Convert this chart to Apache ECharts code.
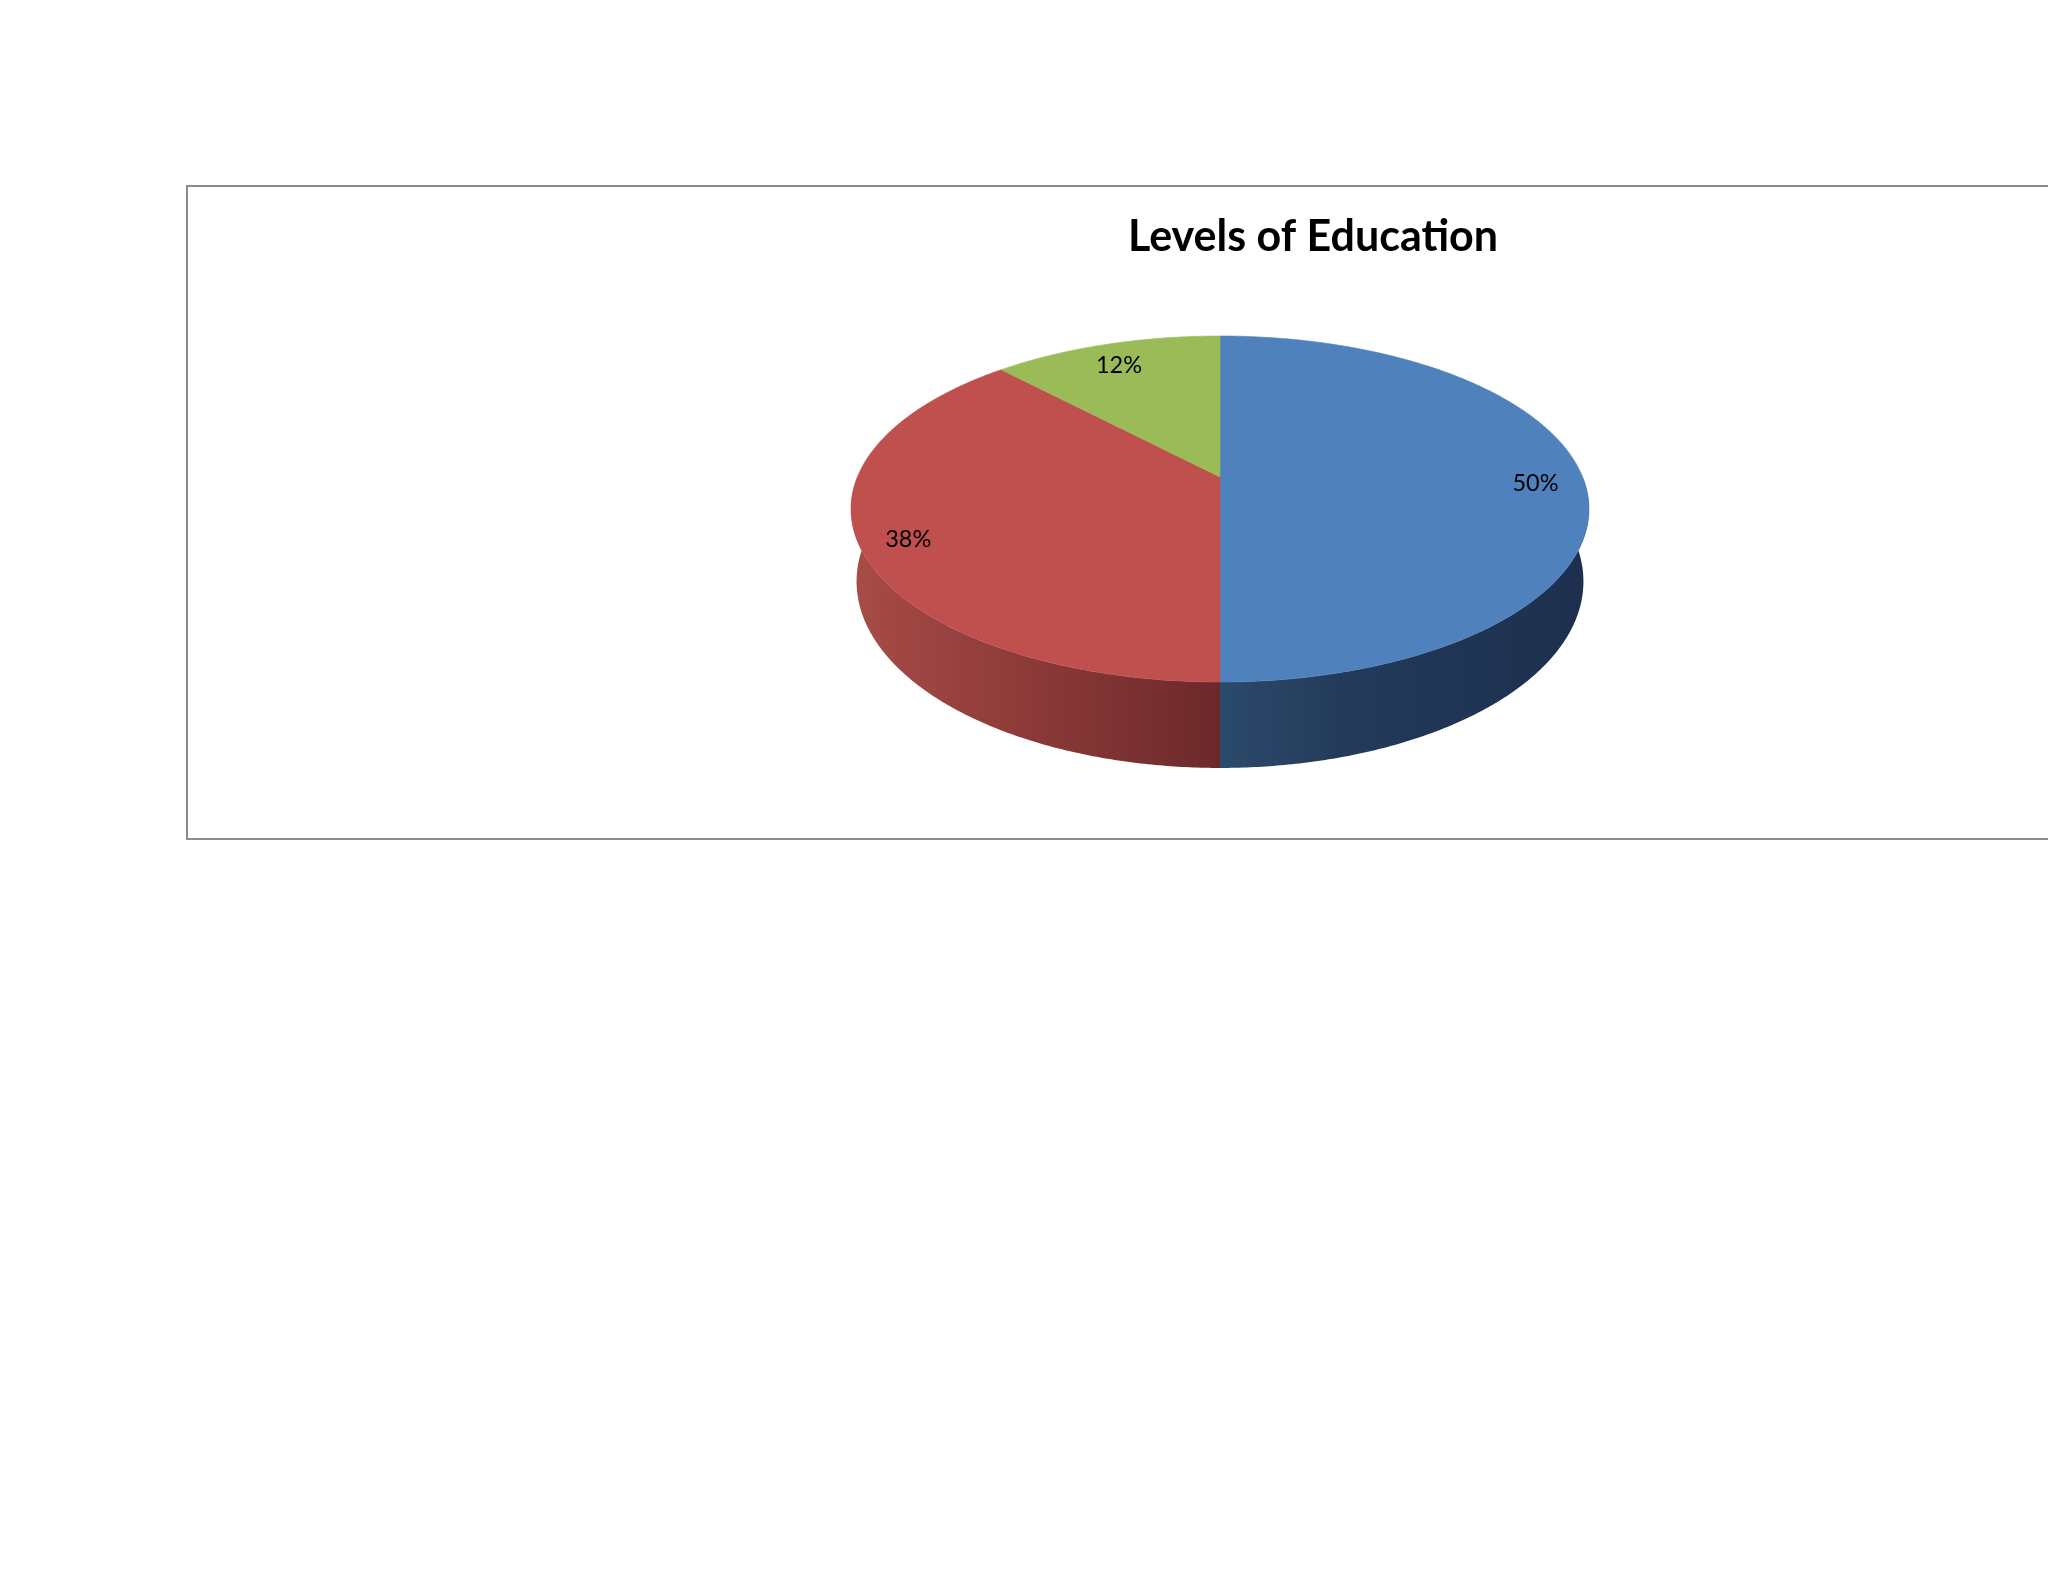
<!DOCTYPE html>
<html>
<head>
<meta charset="utf-8">
<script src="https://cdn.jsdelivr.net/npm/echarts@6/dist/echarts.min.js"></script>
<style>
html,body{margin:0;padding:0;background:#ffffff;}
#chart{width:2048px;height:1582px;}
</style>
</head>
<body>
<div id="chart"></div>
<script>
// ---- data ----
const chartTitle = 'Levels of Education';
const categories = ['Level 1', 'Level 2', 'Level 3'];
const values = [50, 38, 12];

// ---- styles ----
const topColors = ['#4f81bd', '#c0504d', '#9bbb59'];
const sideStops = [
  [[0, '#2c4a6b'], [0.35, '#233a5a'], [1, '#1d2f4d']],
  [[0, '#a84c47'], [0.5, '#8b3938'], [1, '#6c292b']],
  [[0, '#7d9a45'], [1, '#5e7533']]
];

// ---- projection (layout) ----
const CX = 1220, CY = 477, A = 362.6, B = 167.1, K = 0.185, DEPTH = 70, BOTTOM_SHRINK = 0.985;
const LABEL_R = 0.87, LABEL_DY = 6;
const DEG = Math.PI / 180;
function proj(thetaDeg, r) {
  const t = thetaDeg * DEG;
  const u = r * Math.sin(t), v = r * Math.cos(t);
  const d = 1 + K * v;
  return [CX + A * u / d, CY - B * v / d];
}
function projBottom(thetaDeg) {
  const t = thetaDeg * DEG;
  const v = Math.cos(t);
  const d = 1 + K * v;
  const p = proj(thetaDeg, 1);
  return [CX + (p[0] - CX) * BOTTOM_SHRINK, p[1] + DEPTH / d];
}

const total = values.reduce((s, v) => s + v, 0);
const starts = [];
let acc = 0;
values.forEach(v => { starts.push(acc / total * 360); acc += v; });

const chart = echarts.init(document.getElementById('chart'), null, {renderer: 'canvas'});

function renderItem(params, api) {
  const i = params.dataIndex;
  const val = api.value(0);
  const t0 = starts[i];
  const t1 = t0 + val / total * 360;
  const children = [];
  // side wall (front half only: 90..270)
  const s0 = Math.max(t0, 90), s1 = Math.min(t1, 270);
  if (s1 > s0) {
    const pts = [];
    const n = Math.max(2, Math.ceil((s1 - s0) / 0.5));
    for (let j = 0; j <= n; j++) pts.push(proj(s0 + (s1 - s0) * j / n, 1));
    for (let j = n; j >= 0; j--) pts.push(projBottom(s0 + (s1 - s0) * j / n));
    children.push({
      type: 'polygon',
      shape: {points: pts},
      style: {fill: new echarts.graphic.LinearGradient(0, 0, 1, 0,
        sideStops[i].map(s => ({offset: s[0], color: s[1]})))}
    });
  }
  // top face
  const tp = [[CX, CY]];
  const m = Math.max(2, Math.ceil((t1 - t0) / 0.5));
  for (let j = 0; j <= m; j++) tp.push(proj(t0 + (t1 - t0) * j / m, 1));
  children.push({
    type: 'polygon',
    shape: {points: tp},
    style: {fill: topColors[i], stroke: topColors[i], lineWidth: 0.6}
  });
  // label
  const mid = (t0 + t1) / 2;
  const lp = proj(mid, LABEL_R);
  children.push({
    type: 'text',
    x: lp[0], y: lp[1] + LABEL_DY,
    style: {
      text: Math.round(val / total * 100) + '%',
      fontFamily: 'Lato, "Noto Sans", sans-serif',
      fontSize: 23.5,
      fill: '#000000',
      align: 'center',
      verticalAlign: 'middle'
    },
    z2: 100
  });
  return {type: 'group', children: children};
}

chart.setOption({
  backgroundColor: '#ffffff',
  animation: false,
  title: {
    text: chartTitle,
    left: 1308,
    top: 211,
    textAlign: 'center',
    textStyle: {
      fontFamily: 'Lato, "Noto Sans", sans-serif',
      fontWeight: 'bold',
      fontSize: 43,
      color: '#000000'
    }
  },
  graphic: [{
    type: 'rect',
    shape: {x: 187, y: 186, width: 1900, height: 653},
    style: {fill: 'none', stroke: '#8c8c8c', lineWidth: 2},
    z: -10
  }],
  series: [{
    type: 'custom',
    coordinateSystem: 'none',
    renderItem: renderItem,
    data: values.map((v, i) => ({name: categories[i], value: [v]}))
  }]
});
</script>
</body>
</html>
